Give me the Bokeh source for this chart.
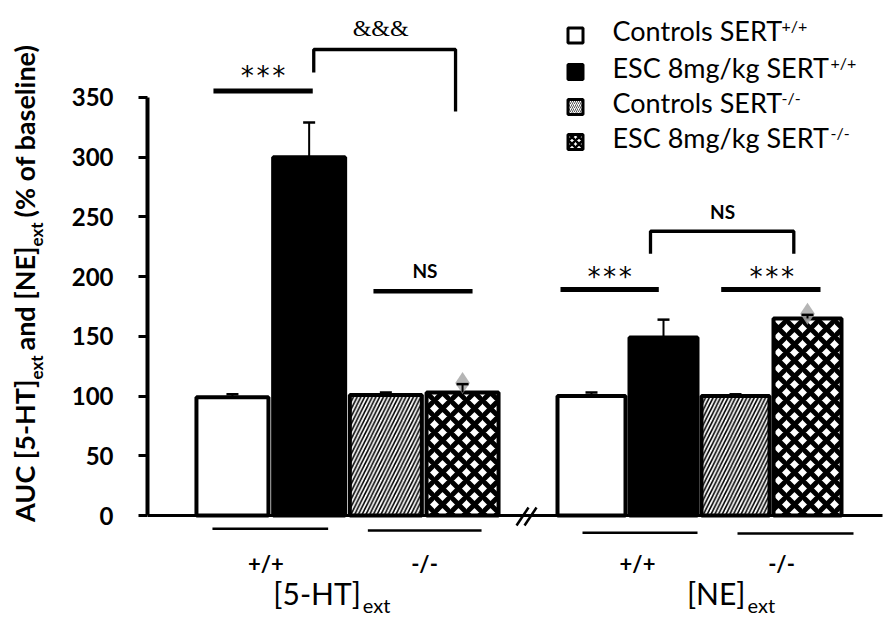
import numpy as np
from bokeh.plotting import figure
from bokeh.layouts import row
from bokeh.models import Range1d, FixedTicker
from bokeh.core.properties import value
from bokeh.embed import file_html
from bokeh.resources import INLINE

# ---------------- data ----------------
groups = ["[5-HT]", "[NE]"]
genotypes = ["+/+", "-/-"]
series_names = ["Controls SERT", "ESC 8mg/kg SERT", "Controls SERT", "ESC 8mg/kg SERT"]
series_sup = ["+/+", "+/+", "-/-", "-/-"]

ctrl_wt = [99, 100]
ctrl_wt_err = [2.5, 3]
esc_wt = [300, 149]
esc_wt_err = [29, 15]
ctrl_ko = [101, 100]
ctrl_ko_err = [2, 1.5]
esc_ko = [103, 165]
esc_ko_err = [7, 3]

y_ticks = [0, 50, 100, 150, 200, 250, 300, 350]

sig_texts = ["***", "&&&", "NS", "***", "***", "NS"]
sig_levels = [355.4, 390.2, 187.8, 189.3, 189.3, 238.0]

y_title = ["AUC [5-HT]", "ext", "and [NE]", "ext", "(% of baseline)"]

# ---------------- layout ----------------
FONT = "Lato"
W, H = 892, 623
LAB_W = 50
group_center = [347, 699]
bar_step = [76.7, 72.0]
bar_width = [72, 68]
PX = 1.1943          # pixels per data unit
Y0 = 515             # page row of value 0


def centers(g):
    return [group_center[g] + (i - 1.5) * bar_step[g] for i in range(4)]


def row_to_val(py):
    return (Y0 - py) / PX


xs = [centers(0), centers(1)]

p = figure(width=W - LAB_W, height=H, output_backend="svg", toolbar_location=None,
           x_range=Range1d(147, W), y_range=Range1d(-(H - Y0) / PX, Y0 / PX),
           min_border_left=147 - LAB_W, min_border_right=0, min_border_top=0, min_border_bottom=0,
           x_axis_location=None, outline_line_color=None)
p.grid.visible = False

ax = p.yaxis[0]
ax.ticker = FixedTicker(ticks=y_ticks)
ax.bounds = (0, 350)
ax.axis_line_width = 4
ax.axis_line_color = "black"
ax.major_tick_line_width = 3
ax.major_tick_out = 9
ax.major_tick_in = 0
ax.minor_tick_out = 0
ax.minor_tick_in = 0
ax.major_label_text_font = FONT
ax.major_label_text_font_style = "bold"
ax.major_label_text_font_size = "24px"
ax.major_label_text_color = "black"
ax.major_label_standoff = 25

# ---------------- bars ----------------
series_vals = [ctrl_wt, esc_wt, ctrl_ko, esc_ko]
series_errs = [ctrl_wt_err, esc_wt_err, ctrl_ko_err, esc_ko_err]
styles = [
    dict(fill_color="white"),
    dict(fill_color="black"),
    dict(fill_color="white", hatch_pattern="/", hatch_scale=7.5, hatch_weight=1.6, hatch_color="black"),
    dict(fill_color="white", hatch_pattern="x", hatch_scale=16, hatch_weight=5, hatch_color="black"),
]

for k in range(4):
    bx = [xs[g][k] for g in range(2)]
    bw = [bar_width[g] for g in range(2)]
    p.vbar(x=bx, top=series_vals[k], width=bw, bottom=0, line_color="black",
           line_width=4, **styles[k])

# x axis line with break
p.segment(x0=[147], y0=[0], x1=[882], y1=[0], line_color="black", line_width=3)
brk_x = (xs[0][3] + xs[1][0]) / 2 - 0.5
p.segment(x0=[brk_x - 10, brk_x - 2], y0=[-8.4, -8.4], x1=[brk_x + 2, brk_x + 10], y1=[6.7, 6.7],
          line_color="black", line_width=2.5)

# error bars (gray diamond artefacts on the crosshatched bars)
dx = [xs[g][3] for g in range(2)]
dy = [esc_ko[g] + esc_ko_err[g] + 1 for g in range(2)]
p.scatter(x=dx, y=dy, marker="diamond", size=22, fill_color="#a8a8a8", line_color=None, alpha=0.85)
for k in range(4):
    ex = [xs[g][k] for g in range(2)]
    top = series_vals[k]
    hi = [series_vals[k][g] + series_errs[k][g] for g in range(2)]
    p.segment(x0=ex, y0=top, x1=ex, y1=hi, line_color="black", line_width=2)
    p.segment(x0=[x - 6 for x in ex], y0=hi, x1=[x + 6 for x in ex], y1=hi,
              line_color="black", line_width=2.5)

# ---------------- significance marks ----------------
x1, x2 = xs
l1 = (x1[0] - 19, x1[1] + 3.6)
l3 = (x1[2] - 12.4, x1[3] + 10)
l4 = (x2[0] - 31, x2[1] - 4.7)
l5 = (x2[2] - 14.3, x2[3] + 13)
p.segment(x0=[l1[0], l4[0], l5[0]], y0=[sig_levels[0], sig_levels[3], sig_levels[4]],
          x1=[l1[1], l4[1], l5[1]], y1=[sig_levels[0], sig_levels[3], sig_levels[4]],
          line_color="black", line_width=5)
p.segment(x0=[l3[0]], y0=[sig_levels[2]], x1=[l3[1]], y1=[sig_levels[2]],
          line_color="black", line_width=4.5)

bl, br = x1[1] + 4.6, x1[3] - 7
p.line(x=[bl, bl, br, br], y=[370.9, sig_levels[1], sig_levels[1], 338.3], line_color="black", line_width=3.3)
nl, nr = x2[1] - 13, x2[3] - 13.7
p.line(x=[nl, nl, nr, nr], y=[219.1, sig_levels[5], sig_levels[5], 219.1], line_color="black", line_width=3.3)

star_x = [sum(l1) / 2, sum(l4) / 2, sum(l5) / 2 + 1]
star_y = [sig_levels[0] + 12.5, sig_levels[3] + 10.5, sig_levels[4] + 10.5]
p.text(x=star_x, y=star_y, text=[sig_texts[0], sig_texts[3], sig_texts[4]],
       text_font=value("DejaVu Sans Mono"), text_font_size="26px", text_align="center",
       text_baseline="middle", text_color="black")
p.text(x=[(bl + br) / 2 - 4], y=[sig_levels[1] + 18], text=[sig_texts[1]],
       text_font=value("Liberation Serif"), text_font_size="24px", text_align="center",
       text_baseline="middle", text_color="black")
p.text(x=[sum(l3) / 2 + 2, (nl + nr) / 2 + 0.5], y=[sig_levels[2] + 17.3, sig_levels[5] + 16.5],
       text=[sig_texts[2], sig_texts[5]], text_font=value(FONT), text_font_style="bold",
       text_font_size="19px", text_align="center", text_baseline="middle", text_color="black")

# ---------------- category labels below axis ----------------
ul_x0 = [x1[0] - 20, x1[2] - 18, x2[0] - 9, x2[2] + 2]
ul_x1 = [x1[1] + 19, x1[3] + 19, x2[1] + 34, x2[3] + 46]
ul_y = [-11, -12.5, -14.5, -15]
p.segment(x0=ul_x0, y0=ul_y, x1=ul_x1, y1=ul_y, line_color="black", line_width=2.5)
geno_x = [(x1[0] + x1[1]) / 2 - 5, (x1[2] + x1[3]) / 2 + 0.3, (x2[0] + x2[1]) / 2 + 10, (x2[2] + x2[3]) / 2 + 10]
p.text(x=geno_x, y=[row_to_val(563)] * 4, text=genotypes * 2, text_font=value(FONT), text_font_style="bold",
       text_font_size="22px", text_align="center", text_baseline="middle", text_color="black")

grp_x = [x1[2] - 25, x2[1] + 82]
p.text(x=grp_x, y=[row_to_val(592)] * 2, text=groups, text_font=value(FONT), text_font_size="30px",
       text_align="right", text_baseline="middle", text_color="black")
p.text(x=[gx + 2 for gx in grp_x], y=[row_to_val(604)] * 2, text=["ext", "ext"], text_font=value(FONT),
       text_font_size="20px", text_align="left", text_baseline="middle", text_color="black")

# ---------------- legend ----------------
leg_rows = [30, 66.5, 101.5, 136.5]
leg_y = [row_to_val(r) for r in leg_rows]
sq_y = [row_to_val(r + 5) for r in leg_rows]
for k in range(4):
    st = dict(styles[k])
    if k == 2:
        st.update(hatch_scale=4, hatch_weight=1, hatch_color="#555555")
    if k == 3:
        st.update(hatch_scale=7, hatch_weight=2.5)
    p.rect(x=[575], y=[sq_y[k]], width=15, height=15, width_units="screen", height_units="screen",
           line_color="black", line_width=3, **st)
leg_x = 612
p.text(x=[leg_x] * 4, y=leg_y, text=series_names, text_font=value(FONT), text_font_size="27px",
       text_align="left", text_baseline="middle", text_color="black")
sup_x = [leg_x + 169, leg_x + 218, leg_x + 169, leg_x + 218]
p.text(x=sup_x, y=[row_to_val(r - 5) for r in leg_rows], text=series_sup, text_font=value(FONT),
       text_font_size="16px", text_align="left", text_baseline="middle", text_color="black")

# ---------------- y axis title (own narrow panel, with subscripts) ----------------
lab = figure(width=LAB_W, height=H, output_backend="svg", toolbar_location=None,
             x_range=Range1d(0, LAB_W), y_range=Range1d(0, H),
             min_border_left=0, min_border_right=0, min_border_top=0, min_border_bottom=0,
             x_axis_location=None, y_axis_location=None, outline_line_color=None)
lab.grid.visible = False
# (text, page row of anchor, align, size, centre column)
pieces = [
    (y_title[0], 379, "right", "27px", 24),
    (y_title[1], 379, "left", "17px", 36),
    (y_title[2], 246, "right", "27px", 24),
    (y_title[3], 246, "left", "17px", 36),
    (y_title[4], 217, "left", "27px", 24),
]
for t, py, al, fs, xx in pieces:
    lab.text(x=[xx], y=[H - py], text=[t], angle=np.pi / 2, text_align=al, text_baseline="middle",
             text_font=value(FONT), text_font_style="bold", text_font_size=fs, text_color="black")

layout = row(lab, p, spacing=0)
open("out.html", "w").write(file_html(layout, INLINE))
